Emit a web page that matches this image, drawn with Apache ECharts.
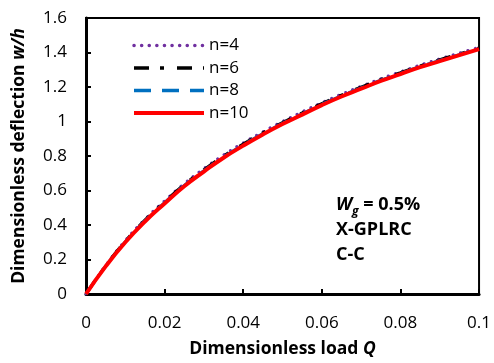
<!DOCTYPE html>
<html>
<head>
<meta charset="utf-8">
<script src="https://cdn.jsdelivr.net/npm/echarts@6/dist/echarts.min.js"></script>
<style>
  html, body { margin: 0; padding: 0; background: #fff; }
  #chart { width: 494px; height: 363px; }
</style>
</head>
<body>
<div id="chart"></div>
<script>
// load Q
const loads = [0, 0.005, 0.01, 0.015, 0.02, 0.025, 0.03, 0.035, 0.04, 0.045, 0.05,
  0.055, 0.06, 0.065, 0.07, 0.075, 0.08, 0.085, 0.09, 0.095, 0.1];
// deflection w/h per n
const n4 = [0, 0.165, 0.31, 0.433, 0.54, 0.64, 0.727, 0.806, 0.876, 0.94, 1.0,
  1.056, 1.109, 1.158, 1.204, 1.248, 1.288, 1.327, 1.363, 1.397, 1.43];
const n6 = [0, 0.163, 0.306, 0.428, 0.534, 0.634, 0.72, 0.8, 0.87, 0.934, 0.994,
  1.05, 1.104, 1.153, 1.199, 1.243, 1.283, 1.322, 1.358, 1.392, 1.426];
const n8 = [0, 0.162, 0.303, 0.424, 0.53, 0.63, 0.715, 0.795, 0.865, 0.93, 0.99,
  1.045, 1.1, 1.149, 1.195, 1.239, 1.279, 1.318, 1.354, 1.388, 1.423];
const n10 = [0, 0.16, 0.3, 0.42, 0.525, 0.625, 0.71, 0.79, 0.86, 0.925, 0.985,
  1.04, 1.095, 1.145, 1.19, 1.235, 1.275, 1.315, 1.35, 1.385, 1.42];

const names = ["n=4", "n=6", "n=8", "n=10"];

const FONT = "Open Sans";

const pairs = (ys) => loads.map((q, i) => [q, ys[i]]);

const line = (name, ys, color, width, type, cap) => ({
  name,
  type: "line",
  data: pairs(ys),
  smooth: true,
  symbol: "none",
  lineStyle: { color, width, type, cap: cap || "butt" },
  itemStyle: { color },
});

const bold = { fontFamily: FONT, fontSize: 17.5, fontWeight: "bold", color: "#000" };
const boldItalic = Object.assign({}, bold, { fontStyle: "italic" });

// legend icon line widths (drawn a bit heavier than the curves)
const legendWidths = [3.5, 3.5, 3.5, 4];

const option = {
  animation: false,
  textStyle: { fontFamily: FONT },
  grid: {
    left: 86, right: 14, top: 18, bottom: 65,
    show: true, borderColor: "#000", borderWidth: 2,
  },
  legend: {
    orient: "vertical",
    left: 127, top: 32,
    itemWidth: 70, itemHeight: 20, itemGap: 5.5,
    itemStyle: { opacity: 0 },
    textStyle: { fontFamily: FONT, fontSize: 17, color: "#000" },
    data: names.map((n, i) => ({ name: n, lineStyle: { width: legendWidths[i] } })),
  },
  xAxis: {
    type: "value",
    min: 0, max: 0.1, interval: 0.02,
    name: "{b|Dimensionless load }{bi|Q}",
    nameLocation: "middle",
    nameGap: 46,
    nameTextStyle: { rich: { b: bold, bi: boldItalic } },
    axisLine: { lineStyle: { color: "#000", width: 3 } },
    axisTick: { inside: true, length: 5, lineStyle: { color: "#000", width: 2 } },
    axisLabel: { margin: 21, fontFamily: FONT, fontSize: 17, color: "#000" },
    splitLine: { show: false },
  },
  yAxis: {
    type: "value",
    min: 0, max: 1.6, interval: 0.2,
    name: "{b|Dimensionless deflection }{bi|w/h}",
    nameLocation: "middle",
    nameGap: 58,
    nameTextStyle: { rich: { b: bold, bi: boldItalic } },
    axisLine: { lineStyle: { color: "#000", width: 3 } },
    axisTick: { inside: true, length: 5, lineStyle: { color: "#000", width: 2 } },
    axisLabel: { margin: 19, fontFamily: FONT, fontSize: 17, color: "#000" },
    splitLine: { show: false },
  },
  graphic: [
    {
      type: "text",
      left: 336, top: 196,
      style: {
        text: "{wi|W}{sub|g}{b| = 0.5%}\n{b|X-GPLRC}\n{b|C-C}",
        rich: {
          wi: { fontFamily: FONT, fontSize: 18, fontWeight: "bold", fontStyle: "italic", fill: "#000", lineHeight: 25 },
          sub: { fontFamily: FONT, fontSize: 12, fontWeight: "bold", fontStyle: "italic", fill: "#000", verticalAlign: "bottom", lineHeight: 25, padding: [7, 0, 0, 0] },
          b: { fontFamily: FONT, fontSize: 18, fontWeight: "bold", fill: "#000", lineHeight: 25 },
        },
      },
    },
  ],
  series: [
    line(names[0], n4, "#7030A0", 3, [0.1, 7.5], "round"),
    line(names[1], n6, "#000000", 3, [15, 11, 4, 13]),
    line(names[2], n8, "#0070C0", 3, [17, 11]),
    line(names[3], n10, "#FF0000", 4, "solid"),
  ],
};

const chart = echarts.init(document.getElementById("chart"));
chart.setOption(option);
</script>
</body>
</html>
